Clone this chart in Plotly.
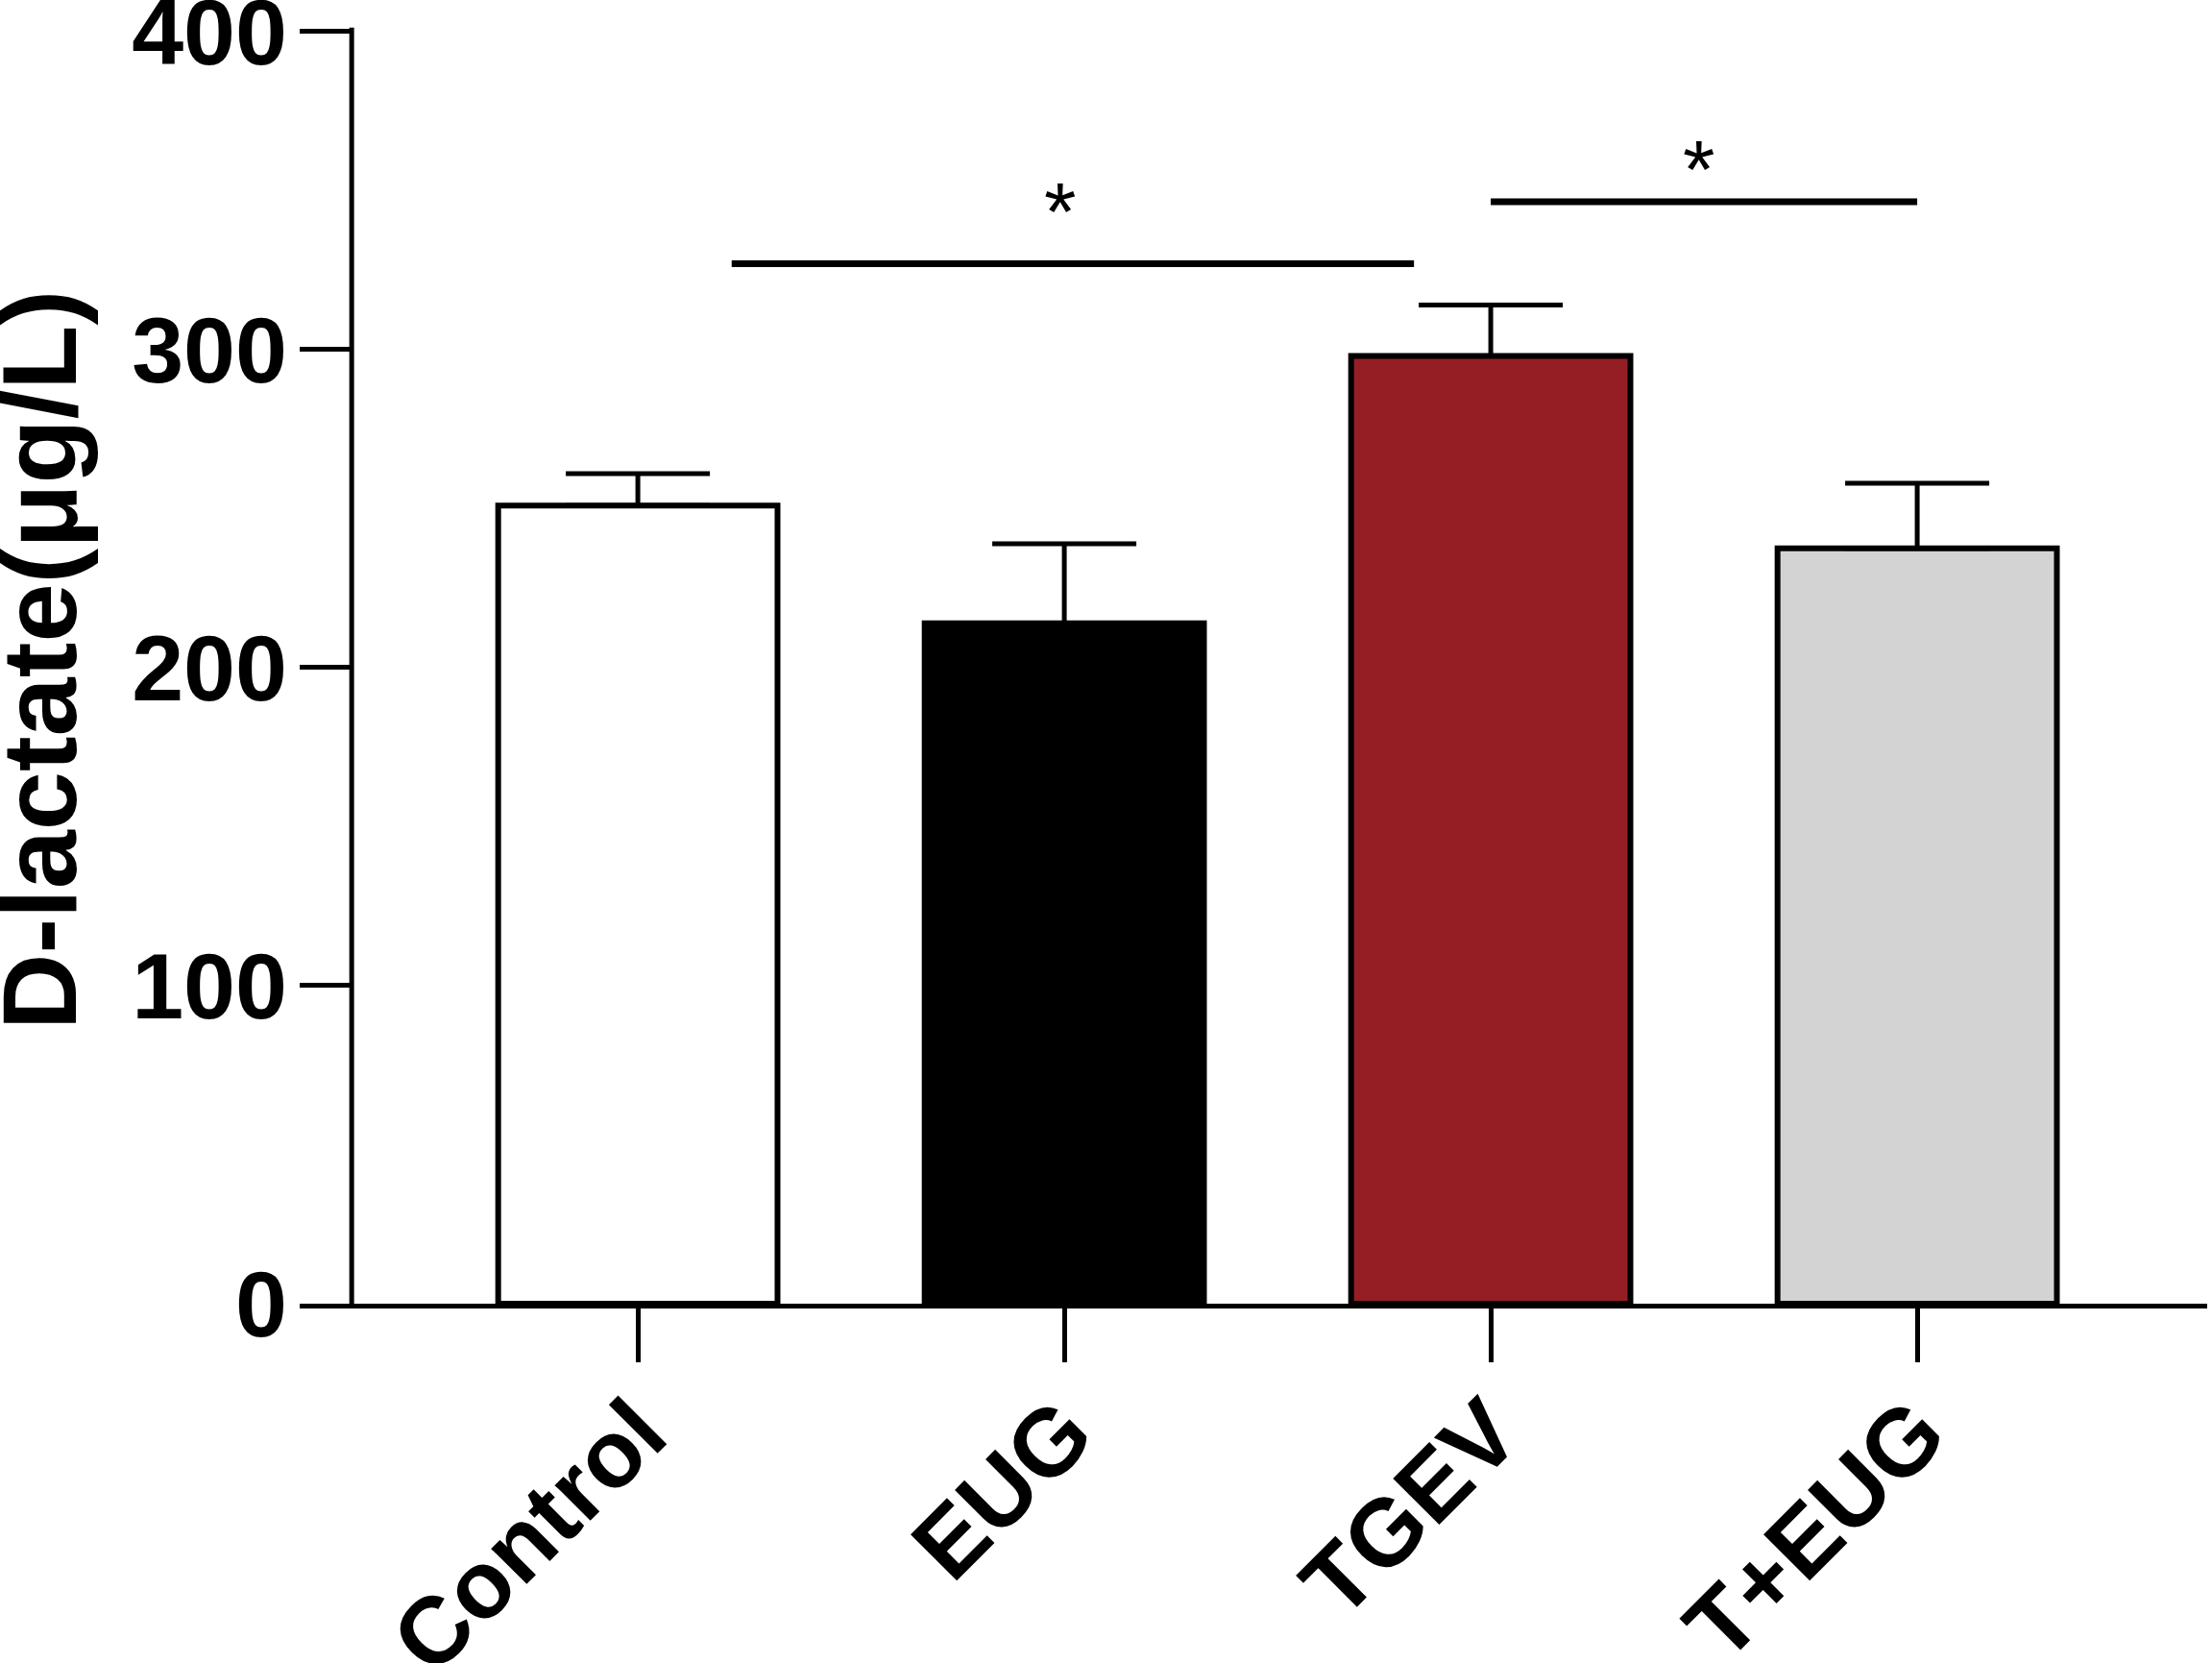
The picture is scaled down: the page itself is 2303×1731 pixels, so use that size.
import plotly.graph_objects as go

# ---- data ----
categories = ["Control", "EUG", "TGEV", "T+EUG"]
means = [251.0, 214.0, 298.0, 237.5]
sem = [10.0, 25.0, 16.0, 20.5]
bar_colors = ["#FFFFFF", "#000000", "#951E25", "#D3D3D3"]
y_ticks = [0, 100, 200, 300, 400]
y_title = "D-lactate(μg/L)"
# significance brackets: (x start, x end, height) in axis units
sig_x0 = [0.22, 2.0]
sig_x1 = [1.82, 3.0]
sig_y = [327.0, 346.5]
sig_label = ["*", "*"]

W, H = 2303, 1731
L, R, T, B = 312, 5, 25, 374
FONT = "Liberation Sans, Arial, sans-serif"

fig = go.Figure()
fig.add_trace(go.Bar(
    x=categories, y=means,
    width=0.655,
    marker=dict(color=bar_colors, line=dict(color="black", width=6)),
    error_y=dict(type="data", array=sem, arrayminus=[0] * len(sem), symmetric=False,
                 color="black", thickness=5, width=75),
    showlegend=False,
))

yr_top = 402.4
shapes = []
# y-axis spine (offset from plot edge)
shapes.append(dict(type="line", xref="x", yref="y", x0=-0.671, x1=-0.671, y0=-1, y1=401.3,
                   line=dict(color="black", width=5)))
for x0, x1, y in zip(sig_x0, sig_x1, sig_y):
    shapes.append(dict(type="line", xref="x", yref="y", x0=x0, x1=x1, y0=y, y1=y,
                       line=dict(color="black", width=7)))

annotations = []
star_dx = [-0.03, -0.012]
star_dy = [16.4, 10.4]
for x0, x1, y, t, dx, dy in zip(sig_x0, sig_x1, sig_y, sig_label, star_dx, star_dy):
    annotations.append(dict(x=(x0 + x1) / 2 + dx, y=y + dy, xref="x", yref="y", text=t,
                            showarrow=False, yanchor="middle",
                            font=dict(family=FONT, size=86, color="black")))
annotations.append(dict(x=-(L - 40) / (W - L - R), y=0.503, xref="paper", yref="paper",
                        text=y_title, textangle=-90, showarrow=False,
                        xanchor="center", yanchor="middle",
                        font=dict(family=FONT, size=110, color="black", weight="bold")))

fig.update_layout(
    width=W, height=H,
    margin=dict(l=L, r=R, t=T, b=B, pad=0, autoexpand=False),
    paper_bgcolor="white", plot_bgcolor="white",
    shapes=shapes, annotations=annotations,
    bargap=0.3,
)
fig.update_xaxes(
    automargin=False,
    range=[-0.793, 3.68], showgrid=False, zeroline=False,
    showline=True, linecolor="black", linewidth=5,
    ticks="outside", ticklen=56, tickwidth=5, tickcolor="black",
    tickangle=-45, ticklabelstandoff=-24,
    tickfont=dict(family=FONT, size=99, color="black", weight="bold"),
)
fig.update_yaxes(
    automargin=False, ticklabeloverflow="allow",
    range=[0, yr_top], showgrid=False, zeroline=False, showline=False,
    tickvals=y_ticks, ticks="inside", ticklen=54, tickwidth=5, tickcolor="black",
    ticklabelstandoff=12,
    tickfont=dict(family=FONT, size=97, color="black", weight="bold"),
)

fig.write_html("out.html", config={"displayModeBar": False},
               post_script="document.body.style.margin='0';")
